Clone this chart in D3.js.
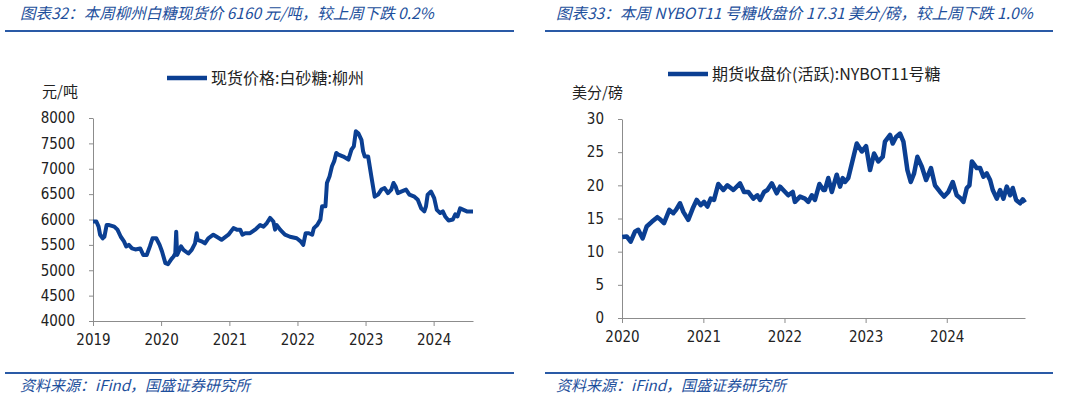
<!DOCTYPE html>
<html>
<head>
<meta charset="utf-8">
<script src="https://cdn.jsdelivr.net/npm/d3@7"></script>
<style>
  body { margin: 0; background: #fff; }
  svg { display: block; }
  .title, .note { font-family: "Noto Sans CJK SC", sans-serif; font-style: italic; fill: #1d4f9c; }
  .axis text { font-family: "DejaVu Sans Condensed", "DejaVu Sans", sans-serif; font-size: 15px; fill: #222; }
  .axis path, .axis line { stroke: #8c8c8c; }
  .legend, .unit { font-family: "Noto Sans CJK SC", sans-serif; fill: #222; }
</style>
</head>
<body>
<div id="viz"></div>
<script>
// set dimensions of the page
var width = 1065, height = 398;
var lineColor = "#0b3f92";

// --- left chart: Liuzhou white sugar spot price (yuan/ton)
var spotDates = [
  "2019-01-01","2019-01-19","2019-01-31","2019-02-08","2019-02-22","2019-03-03","2019-03-15","2019-03-29",
  "2019-04-25","2019-05-12","2019-05-30","2019-06-16","2019-06-28","2019-07-12","2019-07-29","2019-08-16",
  "2019-09-11","2019-09-28","2019-10-16","2019-11-02","2019-11-16","2019-12-06","2019-12-24",
  "2020-01-06","2020-01-24","2020-02-07","2020-02-25","2020-03-08","2020-03-17","2020-03-22","2020-03-27",
  "2020-04-17","2020-04-30","2020-05-26","2020-06-13","2020-07-01","2020-07-10","2020-07-15","2020-08-05",
  "2020-08-23","2020-09-10","2020-10-07","2020-10-25","2020-11-20","2020-12-27",
  "2021-01-23","2021-02-10","2021-02-28","2021-03-12","2021-03-27","2021-04-22","2021-05-19","2021-06-15",
  "2021-07-03","2021-07-21","2021-08-07","2021-08-25","2021-09-03","2021-09-12","2021-09-30","2021-10-26",
  "2021-11-22","2021-12-28",
  "2022-01-18","2022-02-01","2022-02-14","2022-03-03","2022-03-21","2022-03-30","2022-04-17","2022-05-04",
  "2022-05-13","2022-05-31","2022-06-08","2022-06-22","2022-07-05","2022-07-17","2022-07-28","2022-08-09",
  "2022-09-04","2022-10-01","2022-10-18","2022-10-30","2022-11-10","2022-11-23","2022-12-10","2022-12-19",
  "2022-12-28",
  "2023-01-15","2023-02-01","2023-02-19","2023-03-09","2023-03-27","2023-04-13","2023-05-01","2023-05-19",
  "2023-05-31","2023-06-11","2023-06-23","2023-07-11","2023-08-06","2023-08-24","2023-09-20","2023-10-08",
  "2023-10-26","2023-11-12","2023-11-21","2023-11-30","2023-12-18",
  "2024-01-04","2024-01-18","2024-02-05","2024-02-19","2024-03-03","2024-03-21","2024-04-13","2024-04-26",
  "2024-05-08","2024-05-22","2024-06-09","2024-06-27","2024-07-30"
];
var spotPrice = [
  5960,5960,5860,5700,5630,5660,5890,5890,
  5860,5800,5660,5570,5470,5500,5430,5410,
  5430,5300,5300,5470,5630,5630,5500,
  5370,5140,5120,5220,5270,5330,5760,5300,
  5470,5400,5330,5400,5530,5730,5600,5570,
  5530,5630,5700,5660,5600,5700,
  5830,5800,5800,5700,5730,5730,5800,5890,
  5860,5930,6030,5960,5800,5890,5800,5700,
  5660,5630,
  5570,5500,5730,5730,5700,5830,5890,6000,
  6260,6260,6720,6850,7050,7150,7310,7280,
  7240,7180,7380,7440,7740,7700,7570,7340,
  7240,
  7240,6850,6450,6490,6590,6620,6520,6590,
  6720,6650,6520,6550,6590,6490,6450,6390,
  6220,6160,6260,6490,6550,
  6420,6190,6130,6160,6060,5980,6000,6100,
  6060,6220,6190,6160,6160
];
var spotTicks = [4000,4500,5000,5500,6000,6500,7000,7500,8000];

// --- right chart: NYBOT No.11 sugar futures (cents/lb)
var futDates = [
  "2020-01-02","2020-01-22","2020-02-09","2020-02-28","2020-03-14","2020-04-03","2020-04-21","2020-05-14",
  "2020-06-08","2020-06-23","2020-07-08","2020-08-01","2020-08-19","2020-08-31","2020-09-18","2020-10-03",
  "2020-10-25","2020-11-14","2020-12-02","2020-12-20",
  "2021-01-04","2021-01-19","2021-02-03","2021-02-18","2021-03-09","2021-04-01","2021-04-19","2021-05-16",
  "2021-06-15","2021-07-03","2021-07-22","2021-08-14","2021-09-01","2021-09-13","2021-10-01","2021-10-16",
  "2021-11-05","2021-11-27","2021-12-12",
  "2022-01-04","2022-01-18","2022-02-07","2022-02-17","2022-03-12","2022-04-03","2022-04-18","2022-05-04",
  "2022-05-18","2022-06-07","2022-06-25","2022-07-02","2022-07-17","2022-08-02","2022-08-24","2022-09-08",
  "2022-09-20","2022-09-30","2022-10-15","2022-10-31","2022-11-22","2022-12-15",
  "2023-01-03","2023-01-21","2023-02-08","2023-02-27","2023-03-19","2023-03-29","2023-04-21","2023-05-03",
  "2023-05-18","2023-06-05","2023-06-20","2023-07-08","2023-07-23","2023-08-07","2023-08-22","2023-09-11",
  "2023-09-30","2023-10-22","2023-11-09","2023-12-02","2023-12-20",
  "2024-01-08","2024-01-28","2024-02-15","2024-03-04","2024-03-16","2024-03-31","2024-04-12","2024-04-23",
  "2024-05-15","2024-05-30","2024-06-14","2024-06-29","2024-07-14","2024-07-26","2024-08-13","2024-08-28",
  "2024-09-12","2024-09-27","2024-10-12","2024-10-24","2024-11-08","2024-11-26","2024-12-08","2024-12-18"
];
var futPrice = [
  12.2,12.3,11.5,13.0,13.3,12.0,13.8,14.5,
  15.2,14.8,14.3,16.3,15.8,16.3,17.3,16.0,
  14.8,16.5,17.8,17.0,
  17.5,16.8,18.0,17.8,20.2,19.3,20.0,19.3,
  20.3,19.0,19.0,18.0,18.5,17.8,19.0,19.3,
  20.3,18.8,19.8,
  19.0,18.5,19.0,17.5,18.3,18.0,17.5,18.5,
  17.8,20.2,19.3,19.3,21.1,19.0,21.6,19.8,
  21.1,20.5,21.1,23.3,26.3,25.1,
  25.9,22.3,24.8,23.6,24.3,26.6,27.6,26.3,
  27.3,27.8,26.6,22.3,20.5,21.8,24.3,22.8,
  20.8,22.6,20.0,19.0,18.3,
  19.0,20.5,18.5,18.0,17.5,19.6,20.0,23.6,
  22.6,22.6,21.3,21.8,20.8,19.3,18.0,19.3,
  18.0,19.8,18.5,19.6,17.8,17.3,17.9,17.4
];
var futTicks = [0,5,10,15,20,25,30];

var parseDate = d3.timeParse("%Y-%m-%d");

var svg = d3.select("#viz").append("svg")
  .attr("width", width)
  .attr("height", height);

// draws one framed panel: title rule on top, source rule at the bottom
function drawPanel(p)
{
  svg.append("text")
     .attr("class", "title")
     .attr("x", p.titleX)
     .attr("y", 19)
     .style("font-size", "15.5px")
     .text(p.title);

  svg.append("line")
     .attr("x1", p.ruleX1).attr("x2", p.ruleX2)
     .attr("y1", 31).attr("y2", 31)
     .attr("stroke", "#2a5aa6").attr("stroke-width", 2);

  svg.append("line")
     .attr("x1", p.ruleX1).attr("x2", p.ruleX2)
     .attr("y1", 373).attr("y2", 373)
     .attr("stroke", "#2a5aa6").attr("stroke-width", 2);

  svg.append("text")
     .attr("class", "note")
     .attr("x", p.titleX)
     .attr("y", 391)
     .style("font-size", "15px")
     .text("资料来源：iFind，国盛证券研究所");

  // unit label
  svg.append("text")
     .attr("class", "unit")
     .attr("x", p.unitX)
     .attr("y", p.unitY)
     .style("font-size", "15px")
     .text(p.unit);

  // legend
  svg.append("line")
     .attr("x1", p.legX).attr("x2", p.legX + 40)
     .attr("y1", p.legY).attr("y2", p.legY)
     .attr("stroke", lineColor).attr("stroke-width", 4.5);
  svg.append("text")
     .attr("class", "legend")
     .attr("x", p.legX + 44)
     .attr("y", p.legY + 5.5)
     .style("font-size", "16px")
     .text(p.legend);

  var x = d3.scaleTime().domain(p.xDomain).range(p.xRange);
  var y = d3.scaleLinear().domain([p.yTicks[0], p.yTicks[p.yTicks.length - 1]]).range(p.yRange);

  var years = d3.timeYear.range(p.xDomain[0], d3.timeDay.offset(p.xDomain[1], 1));

  svg.append("g")
     .attr("class", "axis")
     .attr("transform", "translate(0," + p.yRange[0] + ")")
     .call(d3.axisBottom(x).tickValues(years).tickFormat(d3.timeFormat("%Y")).tickSize(5).tickSizeOuter(0).tickPadding(8));

  svg.append("g")
     .attr("class", "axis")
     .attr("transform", "translate(" + p.xRange[0] + ",0)")
     .call(d3.axisLeft(y).tickValues(p.yTicks).tickFormat(d3.format("d")).tickSize(4).tickSizeOuter(0).tickPadding(14));

  var points = p.dates.map(function(d, i) { return {date: parseDate(d), value: p.values[i]}; });

  svg.append("path")
     .datum(points)
     .attr("fill", "none")
     .attr("stroke", lineColor)
     .attr("stroke-width", p.lineWidth)
     .attr("stroke-linejoin", "round")
     .attr("d", d3.line().x(function(d) { return x(d.date); }).y(function(d) { return y(d.value); }));
}

drawPanel({
  title: "图表32：本周柳州白糖现货价 6160 元/吨，较上周下跌 0.2%",
  titleX: 20, ruleX1: 5, ruleX2: 514,
  unit: "元/吨", unitX: 42, unitY: 97,
  legend: "现货价格:白砂糖:柳州", legX: 167, legY: 78,
  dates: spotDates, values: spotPrice, yTicks: spotTicks, lineWidth: 4,
  xDomain: [parseDate("2019-01-01"), parseDate("2024-07-30")],
  xRange: [93, 473], yRange: [321, 118]
});

drawPanel({
  title: "图表33：本周 NYBOT11 号糖收盘价 17.31 美分/磅，较上周下跌 1.0%",
  titleX: 556, ruleX1: 545, ruleX2: 1053,
  unit: "美分/磅", unitX: 572, unitY: 98,
  legend: "期货收盘价(活跃):NYBOT11号糖", legX: 668, legY: 74,
  dates: futDates, values: futPrice, yTicks: futTicks, lineWidth: 4.5,
  xDomain: [parseDate("2020-01-01"), parseDate("2024-12-18")],
  xRange: [622, 1025], yRange: [318, 119]
});
</script>
</body>
</html>
